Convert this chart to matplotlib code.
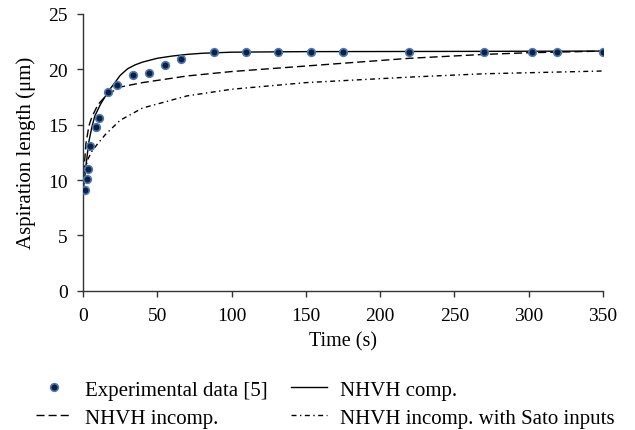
import matplotlib
matplotlib.use("Agg")
import matplotlib.pyplot as plt

plt.rcParams['font.family'] = ['Liberation Serif', 'DejaVu Serif']

# experimental data [5]
exp_t = [1.1, 2.9, 3.6, 4.9, 8.5, 11.0, 16.6, 22.7, 33.9, 44.6, 55.4, 66.0,
         88.2, 109.5, 131.5, 153.4, 175.2, 219.2, 270.0, 302.0, 319.2, 350.0]
exp_y = [9.1, 10.06, 10.97, 13.1, 14.76, 15.57, 17.95, 18.55, 19.5, 19.7, 20.4, 20.96,
         21.56, 21.56, 21.56, 21.56, 21.56, 21.56, 21.56, 21.56, 21.56, 21.56]

# NHVH comp.
comp_t = [0, 1, 2, 4, 6, 8, 12, 17, 22, 25, 30, 35, 40, 50, 60, 70, 80, 100, 150, 250, 350]
comp_y = [9.0, 10.0, 11.3, 13.5, 14.8, 15.8, 16.9, 18.0, 18.9, 19.45, 20.05, 20.4,
          20.65, 21.0, 21.2, 21.35, 21.45, 21.55, 21.6, 21.62, 21.65]

# NHVH incomp.
inc_t = [0, 1, 2, 4, 6, 10, 16, 25, 40, 55, 70, 100, 150, 220, 270, 300, 350]
inc_y = [9.5, 11.5, 13.3, 14.9, 15.7, 16.8, 17.7, 18.4, 18.8, 19.1, 19.4, 19.8,
         20.3, 21.0, 21.35, 21.5, 21.65]

# NHVH incomp. with Sato inputs
sato_t = [0, 1, 3, 6, 10, 15, 25, 40, 70, 100, 150, 220, 270, 350]
sato_y = [9.5, 10.5, 11.8, 12.6, 13.3, 14.1, 15.4, 16.5, 17.6, 18.2, 18.8, 19.3,
          19.6, 19.85]

fig = plt.figure(figsize=(6.35, 4.31), dpi=100)
ax = fig.add_axes([0.1307, 0.3232, 0.819, 0.642])

h_comp, = ax.plot(comp_t, comp_y, color='black', lw=1.0, label='NHVH comp.')
h_inc, = ax.plot(inc_t, inc_y, color='black', lw=1.0, linestyle=(0, (5.8, 2.9)),
                 label='NHVH incomp.')
h_sato, = ax.plot(sato_t, sato_y, color='black', lw=1.0,
                  linestyle=(0, (3.6, 2.5, 1.0, 2.5)),
                  label='NHVH incomp. with Sato inputs')
h_exp, = ax.plot(exp_t, exp_y, linestyle='none', marker='o', ms=5.5,
                 mfc='#0f1f3d', mec='#4a7ab5', mew=1.2, label='Experimental data [5]',
                 zorder=5)

ax.set_xlim(0, 350)
ax.set_ylim(0, 25)
ax.set_xticks(range(0, 351, 50))
ax.set_yticks(range(0, 26, 5))
ax.spines['top'].set_visible(False)
ax.spines['right'].set_visible(False)
for s in ['left', 'bottom']:
    ax.spines[s].set_color('#333333')
    ax.spines[s].set_linewidth(1.0)
ax.tick_params(direction='out', length=4, width=1.0, colors='#333333',
               labelcolor='black', labelsize=14)
ax.tick_params(axis='x', pad=8)
ax.tick_params(axis='y', pad=7)
ax.set_xlabel('Time (s)', fontsize=14.5, labelpad=5)
ax.set_ylabel('Aspiration length (\u03bcm)', fontsize=15, labelpad=9)

fig.legend([h_exp, h_inc, h_comp, h_sato],
           ['Experimental data [5]', 'NHVH incomp.', 'NHVH comp.',
            'NHVH incomp. with Sato inputs'],
           ncol=2, loc='upper left', bbox_to_anchor=(0.0567, 0.116),
           frameon=False, fontsize=15, handlelength=1.73, columnspacing=1.1,
           labelspacing=0.4, handletextpad=0.63, borderaxespad=0, borderpad=0)

fig.savefig('out.png', dpi=100)
